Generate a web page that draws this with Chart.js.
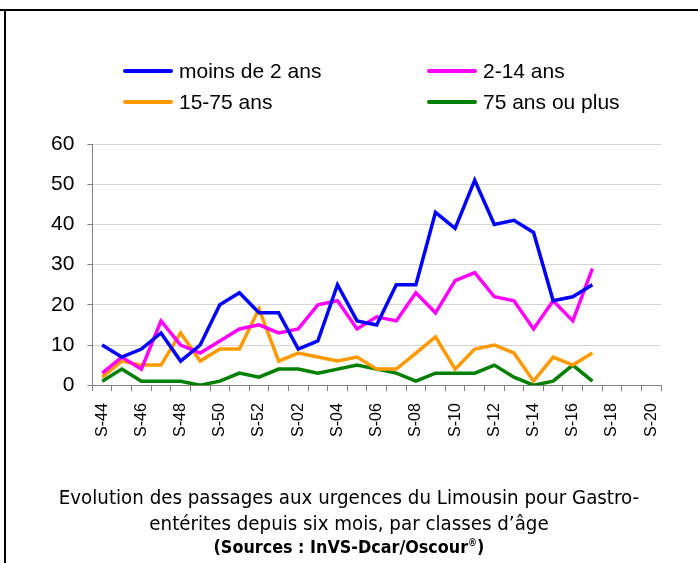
<!DOCTYPE html>
<html>
<head>
<meta charset="utf-8">
<script src="https://cdn.jsdelivr.net/npm/chart.js@4.4.1/dist/chart.umd.min.js"></script>
<style>
    html, body { margin: 0; padding: 0; background: #fff; }
    #wrap { position: relative; width: 698px; height: 563px; overflow: hidden; }
    #frameTop { position: absolute; left: 0; top: 9px; width: 698px; height: 2px; background: #000; }
    #frameLeft { position: absolute; left: 4px; top: 9px; width: 2px; height: 554px; background: #000; }
    #chartBox { position: absolute; left: 0; top: 0; width: 698px; height: 460px; }
    #legend { position: absolute; left: 123px; top: 59px; width: 520px;
        font-family: "Liberation Sans", Arial, sans-serif; font-size: 21px; color: #000; }
    .item { position: absolute; white-space: nowrap; line-height: 24px; }
    .item span.sw { display: inline-block; width: 50px; height: 4px; border-radius: 2px;
        vertical-align: middle; margin-right: 6px; position: relative; top: -1px; }
    #title { position: absolute; left: 0; top: 484px; width: 698px; text-align: center;
        font-family: "Liberation Sans Narrow", "DejaVu Sans Condensed", sans-serif;
        font-size: 20.3px; line-height: 26px; color: #000; }
    #source { position: absolute; left: 0; top: 536px; width: 698px; text-align: center;
        font-family: "Liberation Sans Narrow", "DejaVu Sans Condensed", sans-serif;
        font-weight: bold; font-size: 17.8px; color: #000; }
    #source sup { font-size: 10px; }
</style>
</head>
<body>
<div id="wrap">
    <div id="chartBox"><canvas id="chart"></canvas></div>
    <div id="legend"></div>
    <div id="frameTop"></div>
    <div id="frameLeft"></div>
    <div id="title">Evolution des passages aux urgences du Limousin pour Gastro-<br>entérites depuis six mois, par classes d’âge</div>
    <div id="source">(Sources : InVS-Dcar/Oscour<sup>®</sup>)</div>
</div>
<script>
// Semaines (S-44 a S-20)
const weeks = ['S-44', 'S-45', 'S-46', 'S-47', 'S-48', 'S-49', 'S-50', 'S-51', 'S-52',
    'S-01', 'S-02', 'S-03', 'S-04', 'S-05', 'S-06', 'S-07', 'S-08', 'S-09', 'S-10',
    'S-11', 'S-12', 'S-13', 'S-14', 'S-15', 'S-16', 'S-17', 'S-18', 'S-19', 'S-20'];

const moinsDe2 = [10, 7, 9, 13, 6, 10, 20, 23, 18, 18, 9, 11, 25, 16, 15, 25, 25, 43, 39,
    51, 40, 41, 38, 21, 22, 25, null, null, null];
const de2a14 = [3, 7, 4, 16, 10, 8, 11, 14, 15, 13, 14, 20, 21, 14, 17, 16, 23, 18, 26,
    28, 22, 21, 14, 21, 16, 29, null, null, null];
const de15a75 = [2, 6, 5, 5, 13, 6, 9, 9, 19, 6, 8, 7, 6, 7, 4, 4, 8, 12, 4,
    9, 10, 8, 1, 7, 5, 8, null, null, null];
const plus75 = [1, 4, 1, 1, 1, 0, 1, 3, 2, 4, 4, 3, 4, 5, 4, 3, 1, 3, 3,
    3, 5, 2, 0, 1, 5, 1, null, null, null];

const yTicks = [0, 10, 20, 30, 40, 50, 60];

const series = [
    { label: 'moins de 2 ans', data: moinsDe2, color: '#0000FF' },
    { label: '2-14 ans', data: de2a14, color: '#FF00FF' },
    { label: '15-75 ans', data: de15a75, color: '#FF9900' },
    { label: '75 ans ou plus', data: plus75, color: '#008000' }
];

// Legende HTML en deux colonnes
const legend = document.getElementById('legend');
series.forEach((s, i) => {
    const el = document.createElement('div');
    el.className = 'item';
    el.style.left = (i % 2) * 304 + 'px';
    el.style.top = Math.floor(i / 2) * 31 + 'px';
    el.innerHTML = '<span class="sw" style="background:' + s.color + '"></span>' + s.label;
    legend.appendChild(el);
});

const tickFamily = '"Liberation Sans", Arial, sans-serif';

new Chart(document.getElementById('chart'), {
    type: 'line',
    data: {
        labels: weeks,
        datasets: series.map(s => ({
            label: s.label,
            data: s.data,
            borderColor: s.color,
            backgroundColor: s.color,
            borderWidth: 3.5,
            pointRadius: 0,
            tension: 0,
            spanGaps: false
        }))
    },
    options: {
        responsive: true,
        maintainAspectRatio: false,
        animation: false,
        layout: { padding: { left: 38, right: 37, top: 144, bottom: 11 } },
        plugins: {
            legend: { display: false },
            tooltip: { enabled: false }
        },
        scales: {
            x: {
                offset: true,
                grid: { offset: true, drawOnChartArea: false, drawTicks: true, tickLength: 6, color: '#808080' },
                border: { color: '#808080', width: 1 },
                ticks: {
                    autoSkip: false,
                    minRotation: 90,
                    maxRotation: 90,
                    color: '#000',
                    font: { family: tickFamily, size: 16 },
                    padding: 12,
                    callback: function(value, index) {
                        return index % 2 === 0 ? weeks[index] : '';
                    }
                }
            },
            y: {
                min: yTicks[0],
                max: yTicks[yTicks.length - 1],
                afterBuildTicks: axis => { axis.ticks = yTicks.map(v => ({ value: v })); },
                grid: { color: '#d4d4d4', tickLength: 5, tickColor: '#808080' },
                border: { color: '#808080', width: 1 },
                ticks: { color: '#000', font: { family: tickFamily, size: 21 }, padding: 13 }
            }
        }
    }
});
</script>
</body>
</html>
